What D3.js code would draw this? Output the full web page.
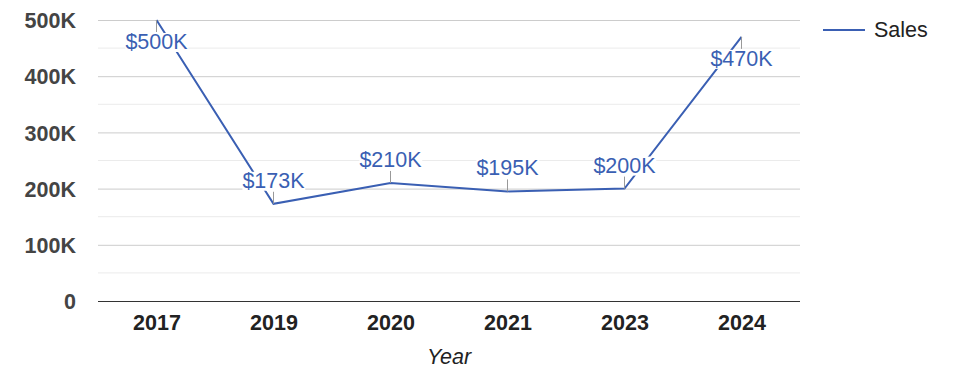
<!DOCTYPE html>
<html>
<head>
<meta charset="utf-8">
<script src="https://cdn.jsdelivr.net/npm/d3@7"></script>
<style>
  body { margin: 0; background: #fff; }
  svg { display: block; font-family: Arial, "Liberation Sans", sans-serif; }
</style>
</head>
<body>
<div id="chart"></div>
<script>
// Sales by year
const years = ["2017", "2019", "2020", "2021", "2023", "2024"]
const sales = [500000, 173000, 210000, 195000, 200000, 470000]
const salesLabels = ["$500K", "$173K", "$210K", "$195K", "$200K", "$470K"]
const yTicks = [0, 100000, 200000, 300000, 400000, 500000]
const yMinorTicks = [50000, 150000, 250000, 350000, 450000]

const width = 975
const height = 378
const margin = { top: 20, right: 175, bottom: 77, left: 98 }
const innerW = width - margin.left - margin.right
const innerH = height - margin.top - margin.bottom
const lineColor = "#3a5fb3"

const svg = d3.select("#chart")
  .append("svg")
  .attr("width", width)
  .attr("height", height)

const g = svg.append("g")
  .attr("transform", `translate(${margin.left},${margin.top})`)

const x = d3.scalePoint()
  .domain(years)
  .range([0, innerW])
  .padding(0.5)

const y = d3.scaleLinear()
  .domain([0, 500000])
  .range([innerH, 0])

// Minor gridlines
g.append("g")
  .selectAll("line")
  .data(yMinorTicks)
  .join("line")
  .attr("x1", 0)
  .attr("x2", innerW)
  .attr("y1", d => y(d))
  .attr("y2", d => y(d))
  .attr("stroke", "#ebebeb")

// Major gridlines + labels
const yAxis = g.append("g")
  .call(d3.axisLeft(y)
    .tickValues(yTicks)
    .tickSize(-innerW)
    .tickPadding(22)
    .tickFormat(d => d === 0 ? "0" : d3.format("d")(d / 1000) + "K"))

yAxis.select(".domain").remove()
yAxis.selectAll(".tick line").attr("stroke", d => d === 0 ? "#333" : "#cccccc")
yAxis.selectAll("text")
  .attr("fill", "#444")
  .attr("font-size", "21.5px")
  .attr("font-weight", "bold")
  .attr("font-family", "Arial, 'Liberation Sans', sans-serif")
  .attr("dy", "0.36em")

// X axis labels
const xAxis = g.append("g")
  .attr("transform", `translate(0,${innerH})`)
  .call(d3.axisBottom(x).tickSize(0).tickPadding(14))

xAxis.select(".domain").remove()
xAxis.selectAll("text")
  .attr("fill", "#222")
  .attr("font-size", "21.5px")
  .attr("font-weight", "bold")
  .attr("font-family", "Arial, 'Liberation Sans', sans-serif")

// Axis title
g.append("text")
  .attr("x", innerW / 2)
  .attr("y", innerH + 63)
  .attr("text-anchor", "middle")
  .attr("font-size", "21.5px")
  .attr("font-style", "italic")
  .attr("fill", "#222")
  .text("Year")

// Line
const line = d3.line()
  .x((d, i) => x(years[i]))
  .y(d => y(d))

g.append("path")
  .datum(sales)
  .attr("d", line)
  .attr("fill", "none")
  .attr("stroke", lineColor)
  .attr("stroke-width", 2)

// Annotations: stem + label with white box, flipped below near top
const ann = g.append("g")
sales.forEach((v, i) => {
  const px = x(years[i])
  const py = y(v)
  const below = py < 40
  const stemEnd = below ? py + 12 : py - 12

  ann.append("line")
    .attr("x1", px)
    .attr("x2", px)
    .attr("y1", py)
    .attr("y2", stemEnd)
    .attr("stroke", "#999")
    .attr("stroke-width", 1)

  const label = ann.append("text")
    .attr("x", px)
    .attr("y", below ? py + 29 : py - 16)
    .attr("text-anchor", "middle")
    .attr("font-size", "21.5px")
    .attr("fill", lineColor)
    .text(salesLabels[i])

  const bb = label.node().getBBox()
  ann.insert("rect", () => label.node())
    .attr("x", bb.x)
    .attr("y", bb.y + 3)
    .attr("width", bb.width)
    .attr("height", bb.height - 5)
    .attr("fill", "#fff")
})

// Legend
const legend = svg.append("g")
  .attr("transform", "translate(823,30)")

legend.append("line")
  .attr("x1", 0)
  .attr("x2", 42)
  .attr("stroke", lineColor)
  .attr("stroke-width", 2)

legend.append("text")
  .attr("x", 51)
  .attr("y", 7)
  .attr("font-size", "21.5px")
  .attr("fill", "#222")
  .text("Sales")
</script>
</body>
</html>
